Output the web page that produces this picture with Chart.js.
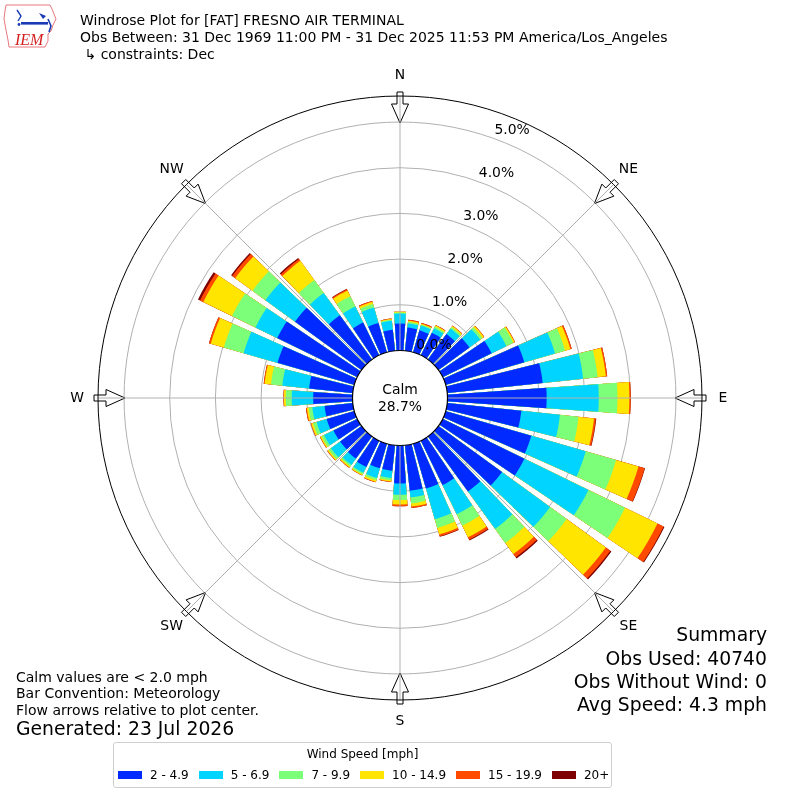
<!DOCTYPE html>
<html>
<head>
<meta charset="utf-8">
<title>Windrose FAT</title>
<script src="https://cdn.jsdelivr.net/npm/chart.js@4.4.1/dist/chart.umd.min.js"></script>
<style>
  body { margin: 0; background: #fff; }
  #wrap { position: relative; width: 800px; height: 800px; font-family: 'DejaVu Sans', sans-serif; color: #000; }
  #wrap canvas { position: absolute; left: 0; top: 0; }
  .txt { position: absolute; white-space: nowrap; line-height: 1; }
  .title { left: 80px; font-size: 14px; }
  .note { left: 16px; font-size: 14px; }
  .summary { right: 33px; font-size: 18.8px; text-align: right; }
  #legend { position: absolute; left: 113px; top: 742px; width: 497px; height: 44px; border: 1px solid #cfcfcf; border-radius: 3px; font-size: 12px; line-height: 1; }
  #legend .ltitle { position: absolute; left: 0; right: 0; top: 5px; text-align: center; }
  #legend .items { position: absolute; left: 4px; top: 26px; display: flex; align-items: center; white-space: nowrap; }
  #legend .item { display: flex; align-items: center; margin-right: 10px; white-space: nowrap; flex: none; }
  #legend .sw { width: 24px; height: 8px; margin-right: 8px; flex: none; }
</style>
</head>
<body>
<div id="wrap">
  <canvas id="rose" width="800" height="800"></canvas>

  <svg class="txt" style="left:0;top:0" width="62" height="52" viewBox="0 0 62 52">
    <polygon points="6,5 50,5 52,9 54,14 56,19 53,25 51,31 48,34 48,41 45,47 9,47 8,40 6,30 4,19 5,11" fill="none" stroke="#e8787c" stroke-width="1"/>
    <path d="M17,10 L21,16 L18,21" fill="none" stroke="#1a3bb5" stroke-width="1.4"/>
    <circle cx="19" cy="24.5" r="1.4" fill="#1a3bb5"/>
    <rect x="21" y="22" width="27" height="2.6" fill="#1a3bb5"/>
    <polygon points="39,13 46,16 43,19" fill="#1a3bb5"/>
    <path d="M48,19 L51,26 L49,32" fill="none" stroke="#1a3bb5" stroke-width="1.6"/>
    <text x="15" y="45" font-family="Liberation Serif" font-style="italic" font-size="16" fill="#d42020">IEM</text>
  </svg>

  <div class="txt title" style="top:13px">Windrose Plot for [FAT] FRESNO AIR TERMINAL</div>
  <div class="txt title" style="top:30px">Obs Between: 31 Dec 1969 11:00 PM - 31 Dec 2025 11:53 PM America/Los_Angeles</div>
  <div class="txt title" style="top:47px">&nbsp;↳ constraints: Dec</div>

  <div class="txt summary" style="top:626px">Summary</div>
  <div class="txt summary" style="top:650px">Obs Used: 40740</div>
  <div class="txt summary" style="top:673px">Obs Without Wind: 0</div>
  <div class="txt summary" style="top:696px">Avg Speed: 4.3 mph</div>

  <div class="txt note" style="top:670px">Calm values are &lt; 2.0 mph</div>
  <div class="txt note" style="top:686px">Bar Convention: Meteorology</div>
  <div class="txt note" style="top:703px">Flow arrows relative to plot center.</div>
  <div class="txt note" style="top:720px;font-size:18.8px">Generated: 23 Jul 2026</div>

  <div id="legend">
    <div class="ltitle">Wind Speed [mph]</div>
    <div class="items" id="legendItems"></div>
  </div>
</div>

<script>
// direction bins (degrees from north), one bar each
const directions = [0, 10, 20, 30, 40, 50, 60, 70, 80, 90, 100, 110, 120, 130, 140, 150, 160, 170,
  180, 190, 200, 210, 220, 230, 240, 250, 260, 270, 280, 290, 300, 310, 320, 330, 340, 350];

const speedBins = ['2 - 4.9', '5 - 6.9', '7 - 9.9', '10 - 14.9', '15 - 19.9', '20+'];
const binColors = ['#002aff', '#00d4ff', '#7cff79', '#ffe500', '#ff4a00', '#7f0000'];
const compassLabels = ['N', 'NE', 'E', 'SE', 'S', 'SW', 'W', 'NW'];
const ringTicks = [0, 1, 2, 3, 4, 5];
const calmPercent = 28.7;

// frequency [%] per direction for each speed bin
const bin2to5 = [0.59, 0.51, 0.50, 0.55, 0.69, 0.84, 1.19, 1.79, 2.10, 2.17, 1.63, 1.95, 1.99, 1.72, 1.49, 1.08, 1.02, 1.00,
  0.83, 0.56, 0.56, 0.64, 0.60, 0.58, 0.58, 0.63, 0.62, 0.86, 0.96, 1.75, 1.95, 1.80, 1.20, 0.80, 0.67, 0.46];
const bin5to7 = [0.22, 0.09, 0.11, 0.11, 0.15, 0.29, 0.36, 0.70, 0.89, 1.14, 0.85, 1.24, 1.56, 1.30, 1.01, 0.71, 0.70, 0.15,
  0.25, 0.16, 0.22, 0.14, 0.17, 0.25, 0.23, 0.23, 0.27, 0.47, 0.59, 0.77, 0.53, 0.80, 0.60, 0.39, 0.35, 0.20];
const bin7to10 = [0.02, 0.03, 0.02, 0.04, 0.04, 0.06, 0.17, 0.23, 0.32, 0.41, 0.41, 0.69, 0.89, 0.45, 0.38, 0.28, 0.20, 0.13,
  0.11, 0.05, 0.05, 0.04, 0.04, 0.06, 0.06, 0.08, 0.08, 0.13, 0.25, 0.45, 0.57, 0.35, 0.35, 0.25, 0.08, 0.02];
const bin10to15 = [0.02, 0.03, 0.02, 0.03, 0.03, 0.04, 0.03, 0.12, 0.18, 0.26, 0.34, 0.51, 0.79, 1.06, 0.30, 0.28, 0.15, 0.07,
  0.10, 0.03, 0.04, 0.02, 0.03, 0.03, 0.03, 0.04, 0.04, 0.04, 0.14, 0.30, 0.70, 0.47, 0.52, 0.14, 0.05, 0.02];
const bin15to20 = [0.00, 0.02, 0.02, 0.01, 0.01, 0.01, 0.01, 0.03, 0.03, 0.03, 0.04, 0.14, 0.15, 0.12, 0.09, 0.06, 0.04, 0.03,
  0.04, 0.01, 0.01, 0.01, 0.01, 0.01, 0.01, 0.01, 0.02, 0.01, 0.02, 0.04, 0.08, 0.08, 0.05, 0.03, 0.02, 0.01];
const bin20up = [0, 0, 0, 0, 0, 0, 0, 0, 0, 0, 0.01, 0.01, 0.02, 0.03, 0.03, 0.02, 0.01, 0,
  0, 0, 0, 0, 0, 0, 0, 0, 0, 0, 0, 0, 0.05, 0.03, 0.03, 0.01, 0, 0];

const binValues = [bin2to5, bin5to7, bin7to10, bin10to15, bin15to20, bin20up];

// bar and gap widths in degrees (bar + gap = 10)
const barAngle = 8;
const gapAngle = 2;

// radial axis: 0 % sits on the calm circle
const rMin = -1.04;
const rMax = 5.57;

// stacked bars: cumulative sums, interleaved with empty gap slots
function buildDatasets() {
  const running = directions.map(() => 0);
  return binValues.map((vals, k) => {
    const data = [];
    vals.forEach((v, i) => {
      running[i] += v;
      data.push(+running[i].toFixed(3), 0);
    });
    return {
      label: speedBins[k],
      data: data,
      backgroundColor: (ctx) => (ctx.dataIndex % 2 ? 'rgba(0,0,0,0)' : binColors[k]),
      borderWidth: 0,
      angle: (ctx) => (ctx.dataIndex % 2 ? gapAngle : barAngle),
    };
  });
}

const slotLabels = [];
directions.forEach((d) => slotLabels.push(d + '°', ''));

function pointAt(s, deg, rad, side) {
  const a = (deg * Math.PI) / 180;
  return [s.xCenter + rad * Math.sin(a) + side * Math.cos(a), s.yCenter - rad * Math.cos(a) + side * Math.sin(a)];
}

const rosePlugin = {
  id: 'rose',
  afterDatasetsDraw(chart) {
    const s = chart.scales.r;
    const ctx = chart.ctx;
    const r0 = s.getDistanceFromCenterForValue(0);
    const rOut = s.drawingArea;
    ctx.save();
    // hollow flow arrows on the rim
    const shape = [[306, -3], [294, -3], [294, -8.5], [275, 0], [294, 8.5], [294, 3], [306, 3]];
    compassLabels.forEach((lab, i) => {
      const deg = i * 45;
      ctx.beginPath();
      shape.forEach(([rr, w], j) => {
        const p = pointAt(s, deg, rr, w);
        if (j === 0) ctx.moveTo(p[0], p[1]);
        else ctx.lineTo(p[0], p[1]);
      });
      ctx.closePath();
      ctx.fillStyle = '#fff';
      ctx.fill();
      ctx.strokeStyle = '#000';
      ctx.lineWidth = 1;
      ctx.stroke();
    });
    // theta grid lines
    ctx.strokeStyle = '#b0b0b0';
    ctx.lineWidth = 1;
    compassLabels.forEach((lab, i) => {
      const a = pointAt(s, i * 45, r0, 0);
      const b = pointAt(s, i * 45, rOut, 0);
      ctx.beginPath();
      ctx.moveTo(a[0], a[1]);
      ctx.lineTo(b[0], b[1]);
      ctx.stroke();
    });
    // calm disc
    ctx.beginPath();
    ctx.arc(s.xCenter, s.yCenter, r0, 0, 2 * Math.PI);
    ctx.fillStyle = '#fff';
    ctx.fill();
    ctx.restore();
  },
  afterDraw(chart) {
    const s = chart.scales.r;
    const ctx = chart.ctx;
    const r0 = s.getDistanceFromCenterForValue(0);
    const rOut = s.drawingArea;
    ctx.save();
    ctx.strokeStyle = '#000';
    ctx.lineWidth = 1.2;
    ctx.beginPath();
    ctx.arc(s.xCenter, s.yCenter, r0, 0, 2 * Math.PI);
    ctx.stroke();
    ctx.lineWidth = 1;
    ctx.beginPath();
    ctx.arc(s.xCenter, s.yCenter, rOut, 0, 2 * Math.PI);
    ctx.stroke();

    ctx.fillStyle = '#000';
    ctx.font = '13.9px "DejaVu Sans"';
    ctx.textAlign = 'center';
    ctx.textBaseline = 'middle';
    compassLabels.forEach((lab, i) => {
      const p = pointAt(s, i * 45, rOut + 21, 0);
      ctx.fillText(lab, p[0], p[1]);
    });
    // ring labels
    ringTicks.forEach((v) => {
      const p = pointAt(s, 20, s.getDistanceFromCenterForValue(v), 0);
      ctx.fillText(v.toFixed(1) + '%', p[0] + 17.7, p[1] - 7.9);
    });
    ctx.fillText('Calm', s.xCenter, s.yCenter - 7.5);
    ctx.fillText(calmPercent.toFixed(1) + '%', s.xCenter, s.yCenter + 9);
    ctx.restore();
  },
};

new Chart(document.getElementById('rose'), {
  type: 'polarArea',
  data: { labels: slotLabels, datasets: buildDatasets() },
  options: {
    animation: false,
    responsive: false,
    layout: { padding: { left: 98, right: 98, top: 96, bottom: 100 } },
    plugins: {
      legend: { display: false },
      tooltip: { enabled: false },
    },
    scales: {
      r: {
        min: rMin,
        max: rMax,
        startAngle: -barAngle / 2,
        z: 1,
        afterBuildTicks: (axis) => {
          axis.ticks = ringTicks.map((v) => ({ value: v }));
        },
        ticks: { display: false },
        grid: { color: '#b0b0b0', lineWidth: 1, circular: true },
        angleLines: { display: false },
        pointLabels: { display: false },
      },
    },
  },
  plugins: [rosePlugin],
});

// legend row
const legendItems = document.getElementById('legendItems');
speedBins.forEach((lab, k) => {
  const item = document.createElement('div');
  item.className = 'item';
  item.innerHTML = '<span class="sw" style="background:' + binColors[k] + '"></span><span>' + lab + '</span>';
  legendItems.appendChild(item);
});
</script>
</body>
</html>
